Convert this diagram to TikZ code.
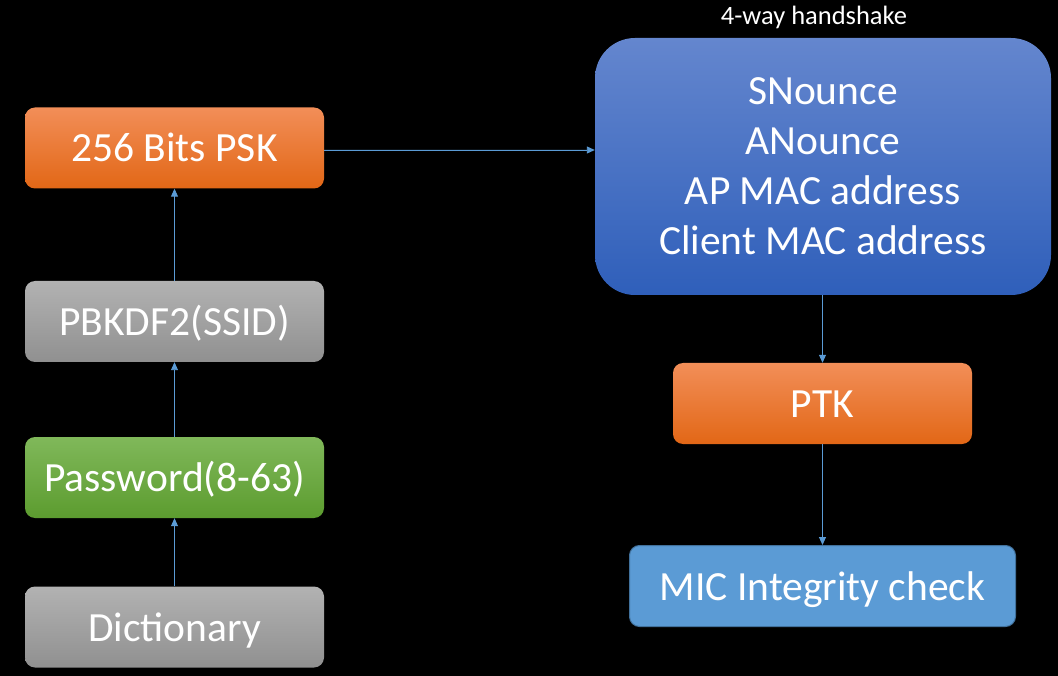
\documentclass[tikz,border=0pt]{standalone}
\usepackage{fontspec}
\setmainfont{Carlito}
\usetikzlibrary{arrows.meta,calc}
\definecolor{linkblue}{HTML}{5B9BD5}
\definecolor{orangeT}{HTML}{F28E58}
\definecolor{orangeM}{HTML}{F27B2E}
\definecolor{orangeB}{HTML}{E26716}
\definecolor{greenT}{HTML}{80B85A}
\definecolor{greenM}{HTML}{6CAA42}
\definecolor{greenB}{HTML}{5C9C2F}
\definecolor{grayT}{HTML}{B2B2B2}
\definecolor{grayM}{HTML}{A3A3A3}
\definecolor{grayB}{HTML}{909090}
\definecolor{blueT}{HTML}{6486CE}
\definecolor{blueM}{HTML}{4570C6}
\definecolor{blueB}{HTML}{2F5FBA}
\definecolor{micfill}{HTML}{5B9BD5}
\definecolor{micborder}{HTML}{41719C}
\tikzset{
  box/.style={rounded corners=10pt, minimum width=299pt, minimum height=81pt,
    inner sep=0pt, text=white, text height=30pt, text depth=2pt,
    font=\fontsize{41.5}{50}\selectfont},
  orangebox/.style={box, top color=orangeT, middle color=orangeM, bottom color=orangeB},
  greenbox/.style={box, top color=greenT, middle color=greenM, bottom color=greenB},
  graybox/.style={box, top color=grayT, middle color=grayM, bottom color=grayB},
  bigbox/.style={rounded corners=40pt, minimum width=456pt, minimum height=257pt,
    inner sep=0pt, text=white, align=center, font=\fontsize{41.5}{50}\selectfont,
    top color=blueT, middle color=blueM, bottom color=blueB},
  micbox/.style={box, rounded corners=10pt, minimum width=386pt, minimum height=81pt,
    fill=micfill, draw=micborder, line width=1pt},
  conn/.style={draw=linkblue, line width=0.9pt, -{Triangle[length=8pt,width=7pt]}, fill=linkblue}
}
\begin{document}
\begin{tikzpicture}[x=1pt,y=-1pt]
\fill[black] (0,0) rectangle (1058,676);
\useasboundingbox (0,0) rectangle (1058,676);

\node[orangebox] (psk) at (174.5,148) {256 Bits PSK};
\node[graybox] (pbk) at (174.5,321.5) {PBKDF2(SSID)};
\node[greenbox] (pwd) at (174.5,477.5) {Password(8-63)};
\node[graybox] (dict) at (174.5,627) {Dictionary};

\node[bigbox] (big) at (823,166.5) {SNounce\\ANounce\\AP MAC address\\Client MAC address};
\node[text=white, font=\fontsize{26.5}{30}\selectfont, anchor=base] (hs) at (814,25) {4-way handshake};

\node[orangebox] (ptk) at (822.5,403.5) {PTK};
\node[micbox] (mic) at (822.5,586) {MIC Integrity check};

\coordinate (pskout) at ($(psk.east)+(0,2)$);
\coordinate (bigin) at (pskout -| big.west);
\coordinate (bigout) at (big.south -| ptk.north);

\draw[conn] (dict) -- (pwd);
\draw[conn] (pwd) -- (pbk);
\draw[conn] (pbk) -- (psk);
\draw[conn] (pskout) -- (bigin);
\draw[conn] (bigout) -- (ptk.north);
\draw[conn] (ptk) -- (mic);
\end{tikzpicture}
\end{document}
